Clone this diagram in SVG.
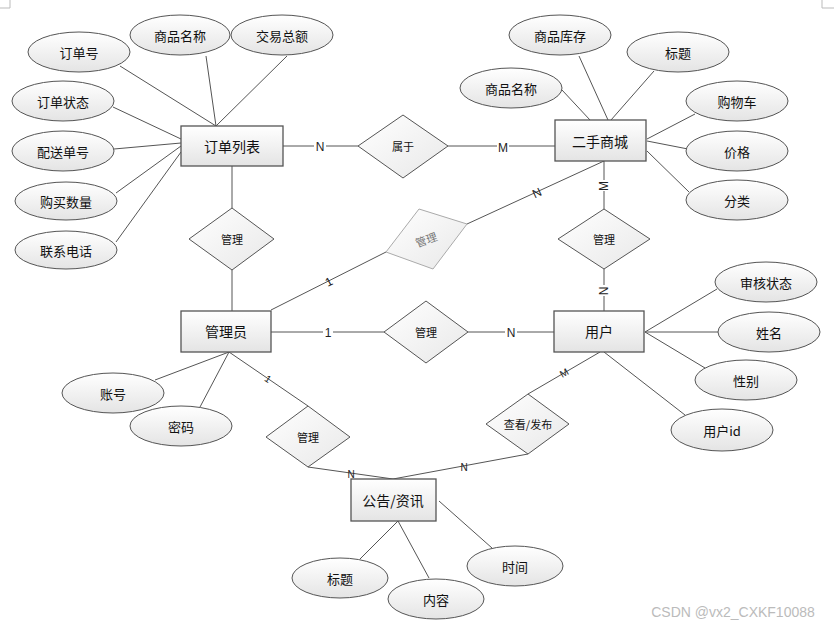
<svg xmlns="http://www.w3.org/2000/svg" width="834" height="628" viewBox="0 0 834 628">
<defs>
<linearGradient id="g" x1="0" y1="0" x2="0" y2="1"><stop offset="0" stop-color="#ffffff"/><stop offset="1" stop-color="#e4e4e4"/></linearGradient>
<linearGradient id="gr" x1="0" y1="0" x2="1" y2="1"><stop offset="0" stop-color="#ffffff"/><stop offset="1" stop-color="#e8e8e8"/></linearGradient>
<style>
.e rect{fill:url(#g);stroke:#555;stroke-width:1.3}
.a ellipse{fill:url(#g);stroke:#555;stroke-width:1}
.r polygon{fill:url(#gr);stroke:#555;stroke-width:1}
text{font-family:"Noto Sans CJK SC","Liberation Sans",sans-serif;fill:#111;text-anchor:middle;dominant-baseline:central}
.e text{font-size:14px}
.a text{font-size:13px}
.r text{font-size:11px}
.c line{stroke:#555;stroke-width:1}
.lb{font-family:"Liberation Sans",sans-serif;font-size:12px;fill:#222}
</style>
</defs>
<rect width="834" height="628" fill="#ffffff"/>
<g id="corners" stroke="#bbb" stroke-width="1" fill="none">
<polyline points="10,0 10,8 0,8"/>
<polyline points="822,0 822,8 834,8"/>
</g>
<g id="connectors" class="c">
<line x1="120" y1="66" x2="216" y2="126"/>
<line x1="206" y1="56" x2="216" y2="126"/>
<line x1="287" y1="56" x2="216" y2="126"/>
<line x1="113" y1="107" x2="181" y2="139"/>
<line x1="114" y1="149" x2="181" y2="143"/>
<line x1="116" y1="193" x2="181" y2="146"/>
<line x1="116" y1="242" x2="181" y2="152"/>
<line x1="579" y1="56" x2="608" y2="120"/>
<line x1="654" y1="71" x2="611" y2="120"/>
<line x1="562" y1="90" x2="590" y2="120"/>
<line x1="695" y1="114" x2="647" y2="139"/>
<line x1="688" y1="149" x2="647" y2="141" stroke-width="1.4"/>
<line x1="689" y1="192" x2="647" y2="151"/>
<line x1="283" y1="146" x2="358" y2="146"/>
<line x1="448" y1="146" x2="555" y2="146"/>
<line x1="232" y1="166" x2="232" y2="208"/>
<line x1="232" y1="270" x2="232" y2="311"/>
<line x1="271" y1="310" x2="386" y2="252"/>
<line x1="467" y1="224" x2="604" y2="161"/>
<line x1="604" y1="161" x2="604" y2="209"/>
<line x1="604" y1="269" x2="604" y2="311"/>
<line x1="271" y1="332" x2="384" y2="332"/>
<line x1="468" y1="332" x2="554" y2="332"/>
<line x1="155" y1="380" x2="229" y2="352"/>
<line x1="200" y1="407" x2="229" y2="352"/>
<line x1="229" y1="352" x2="308" y2="406"/>
<line x1="308" y1="467" x2="393" y2="479"/>
<line x1="528" y1="454" x2="393" y2="479"/>
<line x1="528" y1="394" x2="600" y2="352"/>
<line x1="717" y1="289" x2="645" y2="332"/>
<line x1="718" y1="332" x2="645" y2="332"/>
<line x1="705" y1="368" x2="645" y2="332"/>
<line x1="685" y1="415" x2="604" y2="352"/>
<line x1="360" y1="559" x2="398" y2="521"/>
<line x1="429" y1="578" x2="398" y2="521"/>
<line x1="492" y1="548" x2="439" y2="501"/>
<g id="labels">
<rect x="314" y="139" width="12" height="14" fill="#fff"/><text x="320" y="147" class="lb">N</text>
<rect x="497" y="140" width="12" height="14" fill="#fff"/><text x="503" y="148" class="lb">M</text>
<rect x="597" y="180" width="14" height="11" fill="#fff"/><text x="604" y="186" class="lb" transform="rotate(-90 604 186)">M</text>
<rect x="598" y="285" width="12" height="11" fill="#fff"/><text x="604" y="291" class="lb" transform="rotate(-90 604 291)">N</text>
<rect x="323" y="326" width="10" height="13" fill="#fff"/><text x="328" y="333" class="lb">1</text>
<rect x="505" y="325" width="12" height="14" fill="#fff"/><text x="511" y="333" class="lb">N</text>
<text x="329" y="282" class="lb" transform="rotate(-27 329 282)">1</text>
<text x="537" y="193" class="lb" transform="rotate(-25 537 193)">N</text>
<text x="268" y="379" class="lb" style="font-size:10px" transform="rotate(34 268 379)">1</text>
<text x="351" y="474" class="lb" style="font-size:10px">N</text>
<text x="464" y="467" class="lb" style="font-size:10px">N</text>
<text x="564" y="373" class="lb" style="font-size:10px" transform="rotate(-30 564 373)">M</text>
</g>
</g>
<g id="e-order" class="e"><rect x="181" y="126" width="102" height="40"/><text x="232" y="146">订单列表</text></g>
<g id="e-mall" class="e"><rect x="555" y="120" width="91" height="41"/><text x="600" y="141">二手商城</text></g>
<g id="e-admin" class="e"><rect x="181" y="311" width="90" height="41"/><text x="226" y="331">管理员</text></g>
<g id="e-user" class="e"><rect x="554" y="311" width="90" height="41"/><text x="599" y="331">用户</text></g>
<g id="e-notice" class="e"><rect x="351" y="479" width="85" height="42"/><text x="393" y="500">公告/资讯</text></g>
<g id="a-orderno" class="a"><ellipse cx="79" cy="52" rx="51" ry="20"/><text x="79" y="52">订单号</text></g>
<g id="a-pname1" class="a"><ellipse cx="180" cy="35" rx="50" ry="20"/><text x="180" y="35">商品名称</text></g>
<g id="a-total" class="a"><ellipse cx="282" cy="35" rx="51" ry="20"/><text x="282" y="35">交易总额</text></g>
<g id="a-ostatus" class="a"><ellipse cx="63" cy="101" rx="51" ry="20"/><text x="63" y="101">订单状态</text></g>
<g id="a-ship" class="a"><ellipse cx="63" cy="151" rx="51" ry="20"/><text x="63" y="151">配送单号</text></g>
<g id="a-qty" class="a"><ellipse cx="66" cy="201" rx="51" ry="19"/><text x="66" y="201">购买数量</text></g>
<g id="a-phone" class="a"><ellipse cx="66" cy="250" rx="51" ry="19"/><text x="66" y="250">联系电话</text></g>
<g id="a-stock" class="a"><ellipse cx="560" cy="35" rx="51" ry="20"/><text x="560" y="35">商品库存</text></g>
<g id="a-title1" class="a"><ellipse cx="678" cy="52" rx="51" ry="20"/><text x="678" y="52">标题</text></g>
<g id="a-pname2" class="a"><ellipse cx="511" cy="88" rx="51" ry="20"/><text x="511" y="88">商品名称</text></g>
<g id="a-cart" class="a"><ellipse cx="737" cy="101" rx="51" ry="20"/><text x="737" y="101">购物车</text></g>
<g id="a-price" class="a"><ellipse cx="737" cy="151" rx="51" ry="20"/><text x="737" y="151">价格</text></g>
<g id="a-cat" class="a"><ellipse cx="737" cy="200" rx="51" ry="20"/><text x="737" y="200">分类</text></g>
<g id="a-account" class="a"><ellipse cx="113" cy="393" rx="51" ry="20"/><text x="113" y="393">账号</text></g>
<g id="a-pwd" class="a"><ellipse cx="181" cy="426" rx="51" ry="20"/><text x="181" y="426">密码</text></g>
<g id="a-audit" class="a"><ellipse cx="766" cy="282" rx="51" ry="20"/><text x="766" y="282">审核状态</text></g>
<g id="a-name" class="a"><ellipse cx="769" cy="332" rx="51" ry="20"/><text x="769" y="332">姓名</text></g>
<g id="a-sex" class="a"><ellipse cx="746" cy="380" rx="51" ry="20"/><text x="746" y="380">性别</text></g>
<g id="a-uid" class="a"><ellipse cx="722" cy="430" rx="51" ry="21"/><text x="722" y="430">用户id</text></g>
<g id="a-title2" class="a"><ellipse cx="340" cy="578" rx="48" ry="20"/><text x="340" y="578">标题</text></g>
<g id="a-content" class="a"><ellipse cx="436" cy="599" rx="48" ry="20"/><text x="436" y="599">内容</text></g>
<g id="a-time" class="a"><ellipse cx="515" cy="566" rx="48" ry="20"/><text x="515" y="566">时间</text></g>
<g id="r-belong" class="r"><polygon points="358,146 403,115 448,146 403,178"/><text x="403" y="146">属于</text></g>
<g id="r-manage1" class="r"><polygon points="189,239 232,208 274,239 232,270"/><text x="232" y="239">管理</text></g>
<g id="r-manage2" class="r"><polygon points="386,252 419,209 467,224 433,269" style="stroke:#aaa"/><text x="426" y="239" transform="rotate(-20 426 239)" style="fill:#777">管理</text></g>
<g id="r-manage3" class="r"><polygon points="558,239 604,209 650,239 604,269"/><text x="604" y="239">管理</text></g>
<g id="r-manage4" class="r"><polygon points="384,332 426,301 468,332 426,363"/><text x="426" y="332">管理</text></g>
<g id="r-manage5" class="r"><polygon points="266,437 308,406 350,437 308,467"/><text x="308" y="437">管理</text></g>
<g id="r-view" class="r"><polygon points="486,424 528,394 569,424 528,454"/><text x="528" y="424">查看/发布</text></g>
<text x="733" y="612" style="font-family:'Liberation Sans',sans-serif;font-size:14px;fill:#bbb">CSDN @vx2_CXKF10088</text>
</svg>
